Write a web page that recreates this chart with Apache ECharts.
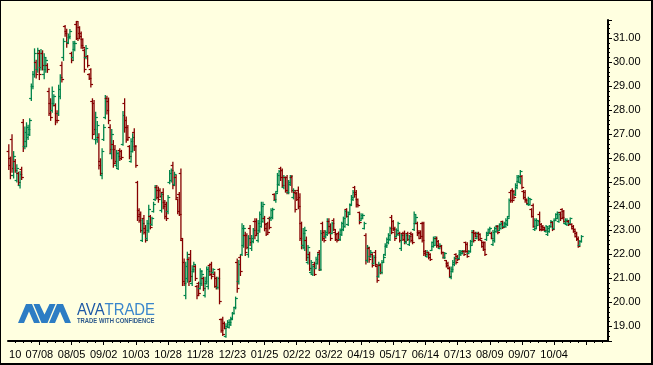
<!DOCTYPE html>
<html><head><meta charset="utf-8">
<script src="https://cdn.jsdelivr.net/npm/echarts@6/dist/echarts.min.js"></script>
<style>
html,body{margin:0;padding:0;background:#FFFFE0;overflow:hidden;}
#c{position:absolute;left:0;top:0;width:653px;height:365px;}
#f{position:absolute;left:0;top:0;width:653px;height:365px;box-sizing:border-box;border-left:1px solid #000;border-top:1px solid #000;border-right:2px solid #000;border-bottom:2px solid #000;pointer-events:none;}
</style></head><body><div id="c"></div><div id="f"></div>
<script>
// x-axis tick labels and the trading-day index each one sits on
const tickLabels = ["10","07/08","08/05","09/02","10/03","10/28","11/28","12/23","01/25","02/22","03/22","04/19","05/17","06/14","07/13","08/09","09/07","10/04"];
const tickLabelIndex = [4,19,39,59,79,99,119,139,159,179,199,219,239,259,279,299,319,339];
const categoryCount = 373;
// OHLC bars: [open, close, low, high]
const barsJunAug = [
[26.3,25.7,25.55,26.58],[26.0,25.3,25.17,26.07],[26.8,25.6,25.44,27.0],[25.3,26.1,25.2,26.3],[25.9,25.5,25.44,25.97],
[25.1,25.6,25.03,25.75],[25.4,25.0,24.89,25.44],[24.9,25.35,24.78,25.47],[25.55,25.2,25.14,25.65],[27.5,26.5,26.3,27.64],
[26.5,27.1,26.42,27.32],[26.7,27.3,26.5,27.5],[26.9,27.2,26.8,27.4],[27.0,27.6,26.97,27.67],[28.5,29.0,28.43,29.12],
[29.0,29.5,28.92,29.64],[29.5,30.4,29.4,30.58],[30.0,29.5,29.36,30.1],[29.7,30.5,29.6,30.6],[30.4,29.5,29.3,30.5],
[29.8,30.4,29.7,30.55],[30.4,29.9,29.7,30.5],[29.5,30.2,29.33,30.37],[29.7,30.1,29.6,30.2],[29.9,29.7,29.6,29.96],
[28.8,27.9,27.8,28.94],[28.3,27.7,27.6,28.5],[28.0,28.8,27.94,28.99],[28.3,28.6,28.2,28.67],[28.2,27.6,27.42,28.29],
[27.9,27.6,27.5,28.0],[27.9,28.9,27.8,29.06],[28.6,29.4,28.5,29.5],[29.9,29.3,29.2,30.03],[30.2,30.9,30.1,31.0],
[31.5,31.2,31.1,31.55],[31.3,30.8,30.65,31.4],[30.85,31.1,30.8,31.2],[31.05,31.3,31.0,31.39],[30.4,30.1,30.0,30.44],
[30.2,30.8,30.1,30.89],[30.55,30.8,30.5,30.9],[31.6,31.0,30.97,31.69],[31.7,31.2,30.93,31.72],[31.45,31.1,31.0,31.5],
[31.2,30.7,30.6,31.28],[30.95,30.65,30.58,31.0],[30.5,29.7,29.61,30.58],[30.2,30.6,30.17,30.72],[30.25,29.9,29.82,30.3],
[29.5,29.35,29.3,29.54],[29.7,29.1,28.99,29.75],[28.4,27.0,26.83,28.5],[28.3,27.2,27.04,28.43],[26.8,27.7,26.62,27.94],
[26.8,27.4,26.69,27.55],[26.9,25.7,25.58,27.04],[25.9,25.4,25.33,26.0],[25.3,26.3,25.17,26.42],[26.8,27.3,26.76,27.42]
];
const barsSepNov = [
[27.7,28.5,27.67,28.64],[28.5,28.0,27.87,28.61],[28.4,27.6,27.46,28.53],[27.3,26.4,26.21,27.42],[26.2,27.0,26.0,27.22],
[26.6,25.8,25.65,26.76],[26.4,25.9,25.79,26.55],[25.7,26.2,25.65,26.35],[25.6,26.1,25.55,26.28],[26.35,26.0,25.93,26.42],
[26.3,26.05,25.97,26.35],[26.6,27.8,26.56,27.97],[28.3,27.3,27.11,28.5],[27.6,26.8,26.69,27.74],[27.3,26.9,26.76,27.39],
[26.5,26.1,26.0,26.55],[25.9,26.7,25.86,26.83],[26.3,26.9,26.28,27.04],[27.1,26.5,26.35,27.25],[26.5,25.7,25.65,26.55],
[25.0,23.6,23.43,25.06],[23.85,23.45,23.36,23.92],[23.7,23.0,22.94,23.78],[22.6,23.3,22.55,23.5],[23.5,22.95,22.87,23.64],
[23.1,22.6,22.53,23.22],[22.7,23.3,22.6,23.43],[23.0,23.9,22.94,24.06],[23.6,23.15,23.08,23.64],[23.25,23.5,23.22,23.57],
[23.8,24.1,23.78,24.19],[24.3,24.8,24.26,24.89],[24.8,24.4,24.33,24.89],[24.7,24.3,24.19,24.82],[24.7,24.45,24.4,24.75],
[23.85,24.5,23.78,24.6],[24.6,24.0,23.92,24.75],[24.2,23.6,23.5,24.26],[24.1,23.5,23.43,24.19],[23.8,24.4,23.71,24.47],
[25.0,25.4,24.96,25.51],[25.1,25.5,25.03,25.58],[25.7,24.9,24.75,25.86],[24.95,25.35,24.89,25.44],[25.2,24.4,24.33,25.3],
[24.3,23.8,23.71,24.33],[24.5,23.7,23.64,24.6],[25.4,22.7,22.6,25.58],[22.6,20.9,20.72,22.66],[21.7,20.8,20.72,21.83],
[20.3,21.5,20.17,21.69],[21.0,22.0,20.86,22.11],[21.8,20.9,20.72,21.9],[22.0,21.1,20.93,22.18],[20.8,21.4,20.72,21.55],
[21.3,21.6,21.28,21.69],[21.5,21.0,20.93,21.55],[20.7,20.3,20.17,20.72],[20.8,20.4,20.3,20.86],[20.6,21.3,20.58,21.42]
];
const barsDecFeb = [
[20.8,21.2,20.72,21.35],[21.0,20.6,20.51,21.07],[20.3,20.9,20.24,21.07],[20.8,21.4,20.79,21.49],[20.7,21.3,20.58,21.49],
[21.55,21.2,21.14,21.62],[21.6,21.1,21.0,21.69],[21.25,21.4,21.21,21.42],[21.2,20.7,20.65,21.28],[21.0,20.65,20.58,21.07],
[20.65,21.0,20.58,21.07],[21.4,20.05,19.96,21.42],[19.3,18.85,18.78,19.33],[19.3,18.7,18.64,19.4],[19.15,18.95,18.92,19.2],
[18.6,19.0,18.57,19.13],[19.0,19.2,18.99,19.26],[18.98,19.2,18.95,19.3],[19.1,19.35,19.06,19.4],[19.3,19.55,19.3,19.6],
[19.55,19.8,19.54,19.82],[19.8,20.2,19.75,20.24],[21.7,20.6,20.44,21.83],[20.9,21.6,20.79,21.76],[21.9,21.3,21.14,21.97],
[22.0,23.1,21.97,23.29],[22.4,23.1,22.32,23.22],[22.8,22.1,21.97,22.94],[22.8,22.3,22.25,22.88],[22.0,22.7,21.9,22.8],
[23.1,22.5,22.39,23.22],[22.25,22.7,22.18,22.8],[22.55,23.0,22.5,23.1],[23.4,22.8,22.67,23.5],[23.4,22.9,22.8,23.5],
[22.6,23.3,22.53,23.43],[23.0,23.7,22.94,23.78],[23.2,24.0,23.15,24.19],[23.4,24.1,23.36,24.19],[23.5,23.1,23.0,23.6],
[23.25,22.85,22.8,23.29],[23.3,22.95,22.88,23.36],[23.5,23.15,23.08,23.57],[23.5,23.85,23.43,23.92],[23.55,23.9,23.5,23.94],
[24.5,24.3,24.26,24.54],[24.25,24.55,24.19,24.61],[24.65,25.3,24.61,25.39],[24.95,25.45,24.89,25.51],[25.6,25.2,25.1,25.65],
[25.5,24.9,24.82,25.58],[24.8,25.2,24.75,25.3],[25.2,24.7,24.61,25.24],[25.2,24.6,24.54,25.3],[24.6,25.0,24.54,25.1],
[24.95,25.25,24.89,25.3],[25.2,24.7,24.61,25.3],[24.4,24.7,24.33,24.75],[24.6,23.9,23.78,24.68],[24.55,24.3,24.26,24.61]
];
const barsMarMay = [
[24.7,24.0,23.92,24.82],[24.4,22.7,22.6,24.54],[23.3,22.4,22.25,23.36],[22.4,22.9,22.25,23.1],[22.3,23.0,22.18,23.15],
[22.6,21.9,21.76,22.74],[21.7,22.3,21.62,22.39],[22.0,21.45,21.35,22.11],[21.25,21.7,21.21,21.76],[21.2,21.5,21.14,21.55],
[21.6,21.2,21.14,21.69],[21.45,21.8,21.42,21.9],[21.65,22.0,21.62,22.04],[22.1,21.4,21.35,22.18],[21.4,22.9,21.35,23.01],
[23.3,22.7,22.6,23.36],[22.95,22.6,22.53,23.01],[22.75,22.95,22.7,23.0],[22.85,23.4,22.8,23.5],[23.4,22.95,22.88,23.5],
[23.2,22.7,22.6,23.29],[22.9,23.3,22.88,23.36],[23.45,23.05,23.01,23.5],[22.95,22.65,22.6,23.01],[22.85,22.6,22.53,22.88],
[22.9,22.65,22.6,22.95],[22.65,23.0,22.6,23.08],[22.85,23.3,22.8,23.36],[23.05,23.5,23.01,23.57],[23.2,23.8,23.15,23.85],
[23.9,23.6,23.57,23.92],[23.25,23.7,23.22,23.78],[23.75,24.05,23.71,24.12],[24.1,24.4,24.06,24.47],[24.3,24.6,24.26,24.68],
[24.8,24.5,24.4,24.85],[24.6,24.1,23.99,24.68],[24.3,24.05,23.99,24.33],[23.75,23.35,23.29,23.78],[23.45,23.65,23.43,23.71],
[23.52,23.65,23.5,23.7],[23.1,23.3,23.08,23.36],[22.8,21.75,21.62,22.88],[21.75,22.3,21.69,22.39],[22.25,21.8,21.69,22.32],
[21.95,22.1,21.9,22.18],[22.0,21.55,21.49,22.04],[21.65,21.9,21.62,21.97],[22.1,21.6,21.56,22.18],[21.5,20.95,20.86,21.56],
[21.1,21.6,21.07,21.69],[21.55,21.25,21.21,21.62],[21.25,21.7,21.21,21.76],[21.7,21.9,21.69,21.97],[22.0,22.4,21.97,22.46],
[22.35,22.65,22.3,22.7],[22.5,22.8,22.46,22.88],[22.65,23.1,22.6,23.15],[23.55,22.95,22.88,23.64],[23.4,23.05,23.01,23.43]
];
const barsJunAug2 = [
[23.1,22.7,22.6,23.15],[22.78,23.0,22.74,23.08],[22.85,23.3,22.8,23.36],[22.9,22.6,22.53,22.94],[22.25,22.8,22.18,22.88],
[22.9,22.65,22.6,22.94],[22.9,22.55,22.46,22.99],[22.5,22.8,22.46,22.88],[22.9,22.65,22.6,22.94],[22.45,22.75,22.39,22.8],
[22.9,22.6,22.53,22.94],[22.85,22.5,22.46,22.88],[23.05,23.7,23.01,23.78],[23.3,23.55,23.29,23.64],[23.3,22.9,22.8,23.36],
[22.95,22.7,22.67,23.01],[22.95,22.75,22.7,23.0],[23.3,22.6,22.53,23.36],[23.3,22.05,21.97,23.36],[22.15,22.0,21.97,22.18],
[21.92,22.1,21.9,22.18],[22.08,21.87,21.83,22.11],[22.0,21.8,21.76,22.04],[22.2,22.5,22.18,22.53],[22.35,22.7,22.32,22.74],
[22.4,22.7,22.39,22.76],[22.7,22.4,22.32,22.74],[22.55,22.35,22.3,22.6],[22.27,22.4,22.25,22.46],[22.35,22.1,22.04,22.39],
[22.1,21.9,21.86,22.11],[21.88,22.05,21.85,22.1],[21.75,21.55,21.49,21.76],[21.65,21.45,21.42,21.69],[21.45,21.1,21.07,21.49],
[21.05,21.4,21.0,21.49],[21.3,21.7,21.28,21.76],[21.58,21.85,21.55,21.9],[22.0,21.7,21.62,22.04],[21.95,21.8,21.76,21.97],
[21.85,22.1,21.83,22.18],[22.0,22.15,21.97,22.18],[22.05,22.15,22.04,22.18],[22.15,22.0,21.97,22.18],[22.5,22.15,22.11,22.53],
[22.45,21.95,21.9,22.5],[22.05,22.15,22.04,22.18],[22.15,22.55,22.11,22.6],[22.4,22.95,22.39,23.01],[22.95,22.6,22.53,23.01],
[22.9,22.78,22.74,22.94],[22.7,22.9,22.67,22.94],[22.9,22.65,22.6,22.94],[22.85,22.7,22.67,22.88],[22.58,22.35,22.32,22.6],
[22.5,22.22,22.18,22.53],[22.5,22.0,21.97,22.53],[22.62,22.9,22.6,22.94],[22.82,23.05,22.8,23.08],[22.95,23.1,22.94,23.15]
];
const barsSepOct = [
[22.9,22.7,22.67,22.94],[22.45,22.95,22.39,23.01],[22.6,23.1,22.53,23.15],[22.96,23.18,22.94,23.22],[23.2,22.92,22.88,23.22],
[23.02,23.25,23.01,23.29],[23.1,23.3,23.08,23.36],[23.38,23.15,23.1,23.4],[23.16,23.32,23.15,23.36],[23.18,23.45,23.15,23.5],
[23.25,23.5,23.22,23.57],[23.6,24.25,23.57,24.33],[24.6,24.25,24.19,24.68],[24.7,24.25,24.19,24.75],[24.65,24.4,24.33,24.68],
[24.5,24.9,24.47,24.96],[24.8,25.2,24.75,25.3],[25.05,25.25,25.03,25.3],[25.0,25.45,24.96,25.51],[25.25,24.8,24.75,25.3],
[24.65,24.4,24.33,24.68],[24.6,24.25,24.19,24.68],[24.3,24.15,24.12,24.33],[24.08,24.35,24.06,24.4],[24.08,24.3,24.06,24.33],
[23.9,23.6,23.57,23.92],[24.05,23.2,23.15,24.12],[23.05,23.45,23.01,23.5],[23.1,23.45,23.08,23.5],[23.24,23.4,23.22,23.43],
[23.7,23.05,23.01,23.78],[23.28,23.05,23.0,23.3],[23.2,23.05,23.01,23.22],[23.13,23.03,23.01,23.15],[22.96,23.18,22.94,23.22],
[22.85,23.1,22.8,23.15],[22.96,23.18,22.94,23.22],[23.17,23.4,23.15,23.43],[23.33,23.05,23.01,23.36],[23.1,23.45,23.08,23.5],
[23.45,23.68,23.43,23.71],[23.52,23.75,23.5,23.78],[23.4,23.68,23.36,23.71],[23.75,23.5,23.43,23.78],[23.9,23.55,23.5,23.92],
[23.8,23.4,23.36,23.85],[23.3,23.45,23.29,23.5],[23.25,23.45,23.22,23.5],[23.4,23.25,23.22,23.43],[23.3,23.5,23.29,23.53],
[23.27,23.1,23.08,23.29],[23.2,22.97,22.94,23.22],[23.05,22.78,22.74,23.08],[22.9,22.65,22.6,22.94],[22.7,22.35,22.32,22.74],
[22.4,22.55,22.39,22.6],[22.55,22.75,22.53,22.8]
];

const GREEN = '#00844a', RED = '#850000';
const allBars = [].concat(barsJunAug, barsSepNov, barsDecFeb, barsMarMay, barsJunAug2, barsSepOct);
const seriesData = allBars.map((b, i) => [i, b[0], b[1], b[2], b[3]]);
const categories = [];
for (let i = 0; i < categoryCount; i++) categories.push(String(i));
const labelMap = {};
tickLabelIndex.forEach((idx, k) => { labelMap[idx] = tickLabels[k]; });

function renderItem(params, api) {
  const i = api.value(0);
  const o = api.value(1), c = api.value(2), l = api.value(3), h = api.value(4);
  const pO = api.coord([i, o]), pC = api.coord([i, c]), pL = api.coord([i, l]), pH = api.coord([i, h]);
  const x = pO[0];
  const col = c >= o ? GREEN : RED;
  const yo = Math.round(pO[1]) + 0.5, yc = Math.round(pC[1]) + 0.5;
  return { type: 'group', children: [
    { type: 'line', shape: { x1: x, y1: pH[1], x2: x, y2: pL[1] + 1 }, style: { stroke: col, lineWidth: 1.3 } },
    { type: 'line', shape: { x1: x - 2.2, y1: yo, x2: x, y2: yo }, style: { stroke: col, lineWidth: 1.2 } },
    { type: 'line', shape: { x1: x, y1: yc, x2: x + 2.2, y2: yc }, style: { stroke: col, lineWidth: 1.2 } }
  ]};
}

const FONT = 'Liberation Sans';
const chart = echarts.init(document.getElementById('c'), null, { renderer: 'canvas' });
chart.setOption({
  animation: false,
  backgroundColor: '#FFFFE0',
  grid: { left: 8, right: 45, top: 20, bottom: 24, containLabel: false },
  xAxis: [{
    type: 'category', data: categories, boundaryGap: true, position: 'bottom',
    axisLine: { show: true, lineStyle: { color: '#000', width: 2 } },
    axisTick: { show: true, alignWithLabel: true, length: 2, interval: (idx) => idx % 5 === 4, lineStyle: { color: '#000', width: 1 } },
    axisLabel: { show: true, interval: (idx) => labelMap[idx] !== undefined, formatter: (v, idx) => labelMap[idx] || '', color: '#000', fontFamily: FONT, fontSize: 11, margin: 8, hideOverlap: false },
    splitLine: { show: false }
  }, {
    type: 'category', data: categories, boundaryGap: true, position: 'bottom', gridIndex: 0,
    axisLine: { show: false },
    axisTick: { show: true, alignWithLabel: true, length: 4, interval: (idx) => idx % 20 === 19, lineStyle: { color: '#000', width: 1 } },
    axisLabel: { show: false }, splitLine: { show: false }
  }],
  yAxis: {
    type: 'value', position: 'right', min: 18.39, max: 31.76, splitNumber: 13, scale: true,
    axisLine: { show: true, lineStyle: { color: '#000', width: 2 } },
    axisTick: { show: true, length: 4, lineStyle: { color: '#000', width: 1 } },
    minorTick: { show: true, splitNumber: 5, length: 2, lineStyle: { color: '#000', width: 1 } },
    axisLabel: { color: '#000', fontFamily: FONT, fontSize: 11, margin: 5,
      formatter: (v) => Math.abs(v - Math.round(v)) < 1e-6 ? v.toFixed(2) : '' },
    splitLine: { show: false }
  },
  series: [{
    type: 'custom', xAxisIndex: 0, yAxisIndex: 0, renderItem: renderItem,
    encode: { x: 0, y: [1, 2, 3, 4] }, data: seriesData, clip: false
  }],
  graphic: [
    { type: 'polygon', shape: { points: [[18,323],[26,304],[32,304],[40,323],[34,323],[29,311.5],[24,323]] }, style: { fill: '#2d7dc4' } },
    { type: 'polygon', shape: { points: [[33.5,304],[39.5,304],[44.5,314.5],[49.5,304],[55.5,304],[47.5,323],[41.5,323]] }, style: { fill: '#2d7dc4' } },
    { type: 'polygon', shape: { points: [[49,323],[57,304],[63,304],[71,323],[65,323],[60,311.5],[55,323]] }, style: { fill: '#2d7dc4' } },
    { type: 'text', x: 77, y: 310.5, scaleX: 0.93, style: { text: '{a|AVA}{b|TRADE}', textVerticalAlign: 'middle',
        rich: { a: { fill: '#1f5aa6', fontFamily: FONT, fontSize: 16 }, b: { fill: '#3a86cc', fontFamily: FONT, fontSize: 16 } } } },
    { type: 'text', x: 77, y: 321, scaleX: 0.84, style: { text: 'TRADE WITH CONFIDENCE', fill: '#2e5a8c', font: 'bold 7px "Liberation Sans"', textVerticalAlign: 'middle' } }
  ]
});
</script></body></html>
